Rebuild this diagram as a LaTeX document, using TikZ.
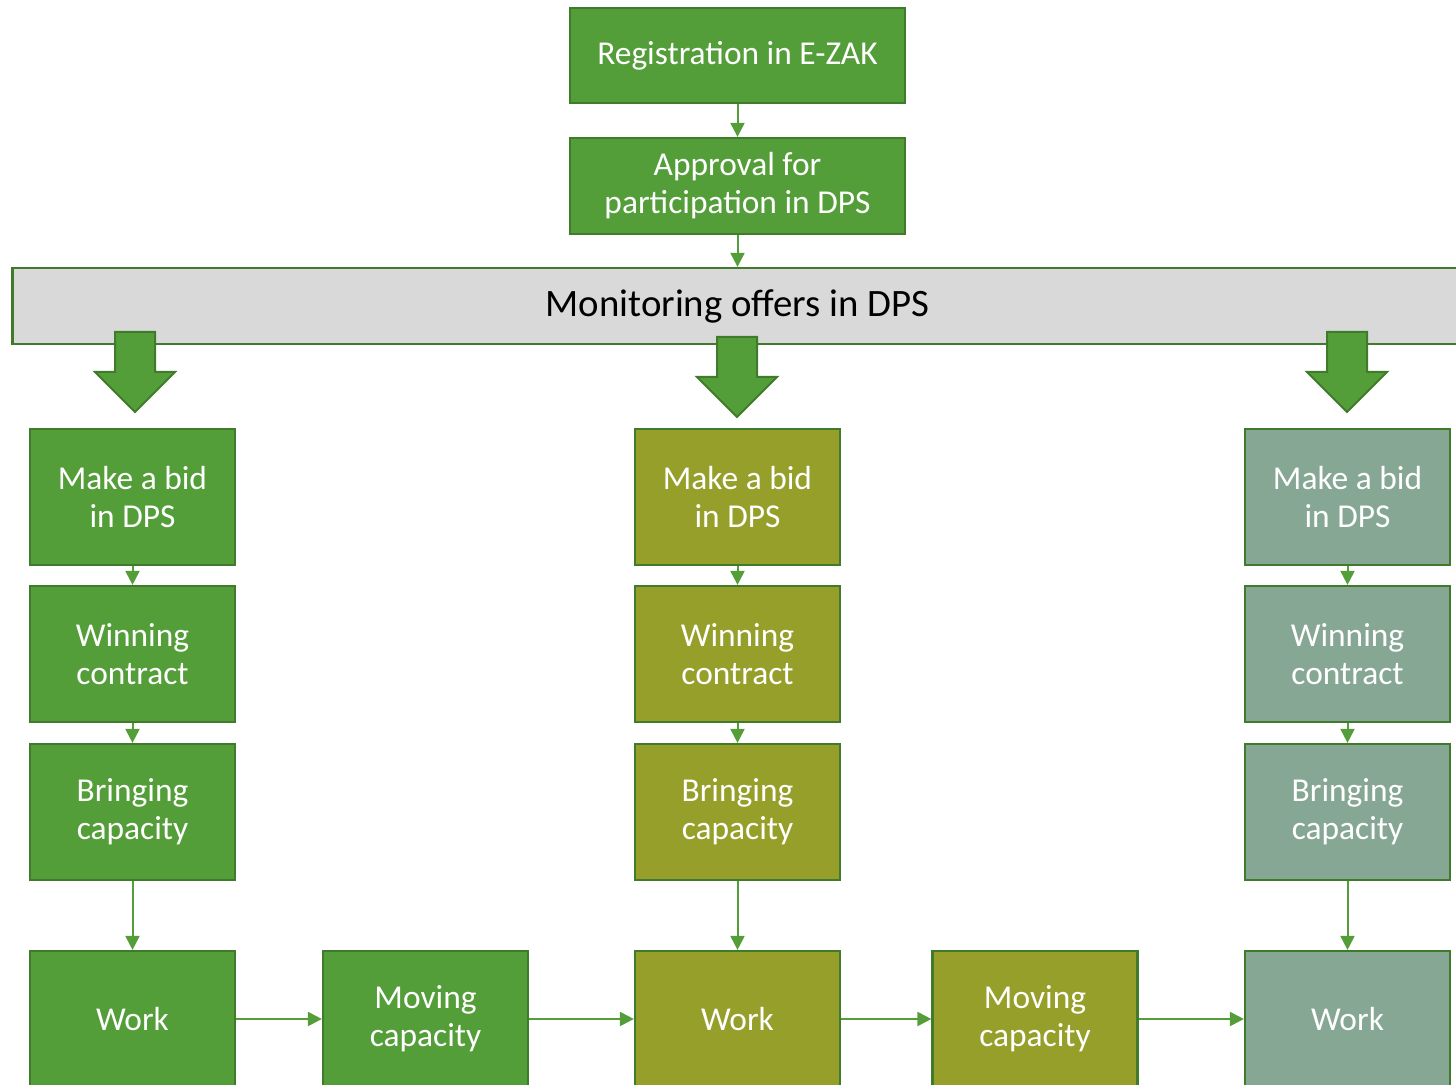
\documentclass[tikz,border=0pt]{standalone}
\usepackage{fontspec}
\setmainfont{Carlito}
\usetikzlibrary{arrows.meta}

\definecolor{leafgreen}{HTML}{549E39}
\definecolor{edgegreen}{HTML}{3F7B2A}
\definecolor{stepolive}{HTML}{969F2A}
\definecolor{stepsage}{HTML}{87A795}
\definecolor{monitorgray}{HTML}{D9D9D9}

\tikzset{
  box/.style={draw=edgegreen, line width=1.1pt, text=white, align=center,
    minimum width=102.5pt, minimum height=68pt, inner sep=0pt,
    font=\fontsize{16.7}{19}\selectfont},
  flow/.style={draw=leafgreen, line width=1pt, -{Triangle[width=7pt,length=7pt]}},
  bigarrow/.style={fill=leafgreen, draw=edgegreen, line width=1pt},
}

\begin{document}
\begin{tikzpicture}[x=0.5pt,y=-0.5pt]
\useasboundingbox (0,0) rectangle (1456,1085);
% The top of the flow
\node[box, minimum width=167.5pt, minimum height=47.5pt, fill=leafgreen] (reg) at (737.5,55.5) {Registration in E-ZAK};
\node[box, minimum width=167.5pt, minimum height=48pt, fill=leafgreen] (appr) at (737.5,186) {Approval for\\participation in DPS};
\node[box, minimum width=725pt, minimum height=38pt, fill=monitorgray, text=black,
  font=\fontsize{19.4}{23}\selectfont] (mon) at (737.5,306) {Monitoring offers in DPS};
\draw[flow] (reg) -- (appr);
\draw[flow] (appr) -- (mon);

% The big arrows out of the monitoring bar
\foreach \x/\t in {135/332, 737/337, 1347/332}
  \draw[bigarrow] ({\x-20},\t) -- ({\x+20},\t) -- ({\x+20},\t+40) -- ({\x+40},\t+40)
    -- (\x,\t+80) -- ({\x-40},\t+40) -- ({\x-20},\t+40) -- cycle;

% The three columns
\foreach \col/\fillc/\cx in {l/leafgreen/132.5, m/stepolive/737.5, r/stepsage/1347.5}
{
  \node[box, fill=\fillc] (bid\col) at (\cx,497) {Make a bid\\in DPS};
  \node[box, fill=\fillc] (win\col) at (\cx,654) {Winning\\contract};
  \node[box, fill=\fillc] (bring\col) at (\cx,812) {Bringing\\capacity};
  \node[box, fill=\fillc] (work\col) at (\cx,1019) {Work};
  \draw[flow] (bid\col) -- (win\col);
  \draw[flow] (win\col) -- (bring\col);
  \draw[flow] (bring\col) -- (work\col);
}

% Moving capacity between the columns
\node[box, fill=leafgreen] (movea) at (425.5,1019) {Moving\\capacity};
\node[box, fill=stepolive] (moveb) at (1035,1019) {Moving\\capacity};
\draw[flow] (workl) -- (movea);
\draw[flow] (movea) -- (workm);
\draw[flow] (workm) -- (moveb);
\draw[flow] (moveb) -- (workr);
\end{tikzpicture}
\end{document}
